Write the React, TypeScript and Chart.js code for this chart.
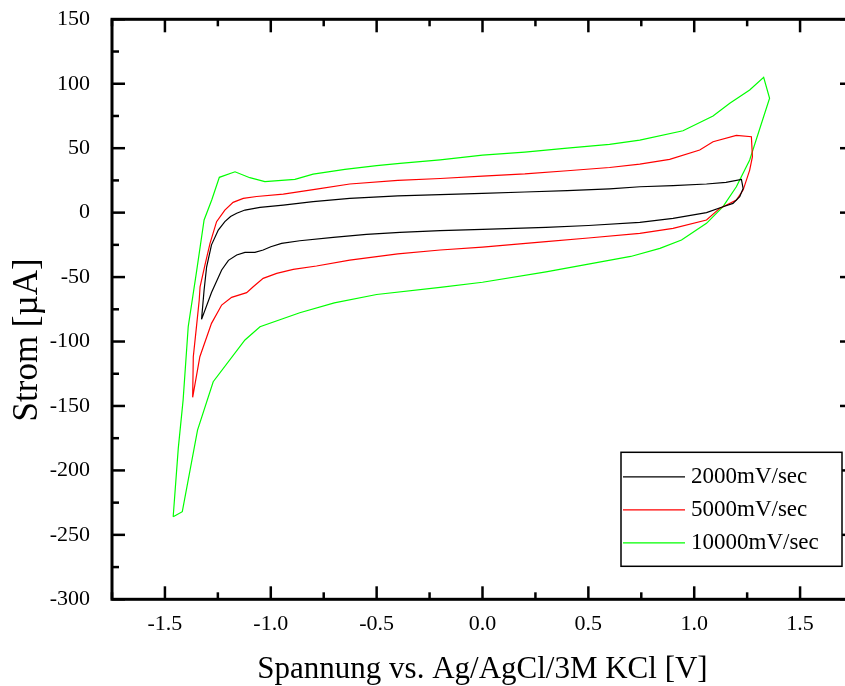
import React, { useEffect, useRef } from 'react';
import { Chart, registerables } from 'chart.js';

Chart.register(...registerables);

// ---- Data (potential in V, current in µA), each loop traced in scan order ----
const blackX = [-1.327, -1.315, -1.303, -1.28, -1.248, -1.217, -1.19, -1.161, -1.122, -1.051, -0.941, -0.8, -0.627, -0.4, -0.2, 0, 0.2, 0.4, 0.6, 0.744, 0.9, 1.058, 1.15, 1.223, 1.231, 1.215, 1.183, 1.136, 1.058, 0.9, 0.743, 0.5, 0.3, 0, -0.2, -0.39, -0.548, -0.705, -0.863, -0.949, -1.0, -1.036, -1.075, -1.122, -1.161, -1.2, -1.232, -1.28, -1.327];
const blackY = [-82.8, -60, -42, -25, -13.5, -7, -3, -0.5, 2, 4.1, 5.9, 8.5, 11.1, 13, 14, 15, 16, 17, 18.5, 20.1, 21, 22.2, 23.5, 25.8, 18.8, 12.3, 7.2, 4.6, 0, -4.4, -7.5, -10, -11.5, -13, -14, -15.3, -16.9, -19.2, -21.8, -23.8, -26.5, -29, -30.8, -30.8, -32.9, -37, -44.5, -62, -82.8];

const redX = [-1.369, -1.366, -1.352, -1.338, -1.334, -1.31, -1.287, -1.256, -1.217, -1.178, -1.13, -1.067, -0.941, -0.784, -0.627, -0.4, -0.2, 0, 0.2, 0.4, 0.6, 0.743, 0.884, 1.026, 1.089, 1.199, 1.27, 1.275, 1.262, 1.231, 1.199, 1.12, 1.058, 0.9, 0.743, 0.5, 0.3, 0, -0.2, -0.4, -0.627, -0.784, -0.894, -0.972, -1.036, -1.083, -1.114, -1.185, -1.232, -1.28, -1.335, -1.369];
const redY = [-143.3, -111.8, -90, -67.8, -57.5, -40, -23.8, -7, 2, 8, 11.1, 12.5, 14.4, 18.3, 22.2, 25, 26.5, 28.4, 30, 32.5, 35, 37.7, 41.3, 48.6, 55, 60, 58.9, 43.4, 33, 17.5, 9.8, 3.3, -5.7, -12.2, -16.1, -19.7, -22.5, -26.7, -29, -32, -36.8, -41.4, -44, -47.1, -51, -57.5, -62.1, -65.7, -71.7, -85.9, -111.8, -143.3];

const greenX = [-1.461, -1.437, -1.414, -1.39, -1.35, -1.315, -1.279, -1.243, -1.169, -1.099, -1.028, -0.886, -0.8, -0.65, -0.5, -0.39, -0.2, 0, 0.2, 0.4, 0.6, 0.743, 0.947, 1.089, 1.168, 1.262, 1.328, 1.356, 1.262, 1.199, 1.136, 1.058, 0.94, 0.838, 0.7, 0.5, 0.3, 0, -0.2, -0.5, -0.7, -0.863, -1.051, -1.122, -1.272, -1.346, -1.418, -1.461];
const greenY = [-235.9, -182.9, -145.3, -88.5, -45, -5.7, 9.8, 27.4, 31.7, 27.1, 24, 25.8, 29.9, 33.6, 36.4, 38.2, 41, 44.6, 47, 50, 53, 56.3, 63.5, 74.9, 84.8, 95.1, 105, 88.7, 40.8, 20.1, 4.6, -8.3, -21.3, -27.7, -34, -40, -46, -54, -58, -63.5, -70, -77.7, -88.5, -98.8, -131.2, -168.7, -232, -235.9];

const seriesLabels = ['2000mV/sec', '5000mV/sec', '10000mV/sec'];
const seriesColors = ['#000000', '#ff0000', '#00ff00'];
const seriesX = [blackX, redX, greenX];
const seriesY = [blackY, redY, greenY];

const xMin = -1.75;
const xMax = 1.75;
const xStep = 0.25;
const xMajor = 0.5;
const yMin = -300;
const yMax = 150;
const yStep = 25;
const yMajor = 50;

const xTitle = 'Spannung vs. Ag/AgCl/3M KCl [V]';
const yTitle = 'Strom [µA]';

const SERIF = '"Liberation Serif", "Times New Roman", Times, serif';

const isMajor = (v: number, m: number) => Math.abs(v / m - Math.round(v / m)) < 1e-6;

const framePlugin = {
  id: 'frameTicksLegend',
  afterDraw(chart: any) {
    const { ctx, chartArea } = chart;
    const { left, right, top, bottom } = chartArea;
    const xs = chart.scales.x;
    const ys = chart.scales.y;
    ctx.save();
    ctx.strokeStyle = '#000';
    ctx.lineWidth = 3;
    ctx.strokeRect(left, top, right - left, bottom - top);
    ctx.lineWidth = 2.5;
    const seg = (x1: number, y1: number, x2: number, y2: number) => {
      ctx.beginPath();
      ctx.moveTo(x1, y1);
      ctx.lineTo(x2, y2);
      ctx.stroke();
    };
    xs.ticks.forEach((t: any) => {
      const px = xs.getPixelForValue(t.value);
      const len = isMajor(t.value, xMajor) ? 13 : 7;
      seg(px, bottom, px, bottom - len);
      seg(px, top, px, top + len);
    });
    ys.ticks.forEach((t: any) => {
      const py = ys.getPixelForValue(t.value);
      const len = isMajor(t.value, yMajor) ? 13 : 7;
      seg(left, py, left + len, py);
      seg(right, py, right - len, py);
    });

    // legend box
    const bw = 221;
    const bh = 114;
    const bx = right - 11 - bw;
    const by = bottom - 33 - bh;
    ctx.fillStyle = '#fff';
    ctx.fillRect(bx, by, bw, bh);
    ctx.strokeStyle = '#000';
    ctx.lineWidth = 1.5;
    ctx.strokeRect(bx, by, bw, bh);
    ctx.font = '23px ' + SERIF;
    ctx.textBaseline = 'middle';
    ctx.textAlign = 'left';
    seriesLabels.forEach((lab, i) => {
      const cy = by + 24.5 + i * 33;
      ctx.strokeStyle = seriesColors[i];
      ctx.lineWidth = 1.2;
      seg(bx + 2, cy, bx + 64, cy);
      ctx.fillStyle = '#000';
      ctx.fillText(lab, bx + 70, cy);
    });
    ctx.restore();
  },
};

export default function App() {
  const canvasRef = useRef<HTMLCanvasElement | null>(null);

  useEffect(() => {
    const canvas = canvasRef.current;
    if (!canvas) return;
    const datasets = seriesLabels.map((label, i) => ({
      label,
      data: seriesX[i].map((x, j) => ({ x, y: seriesY[i][j] })),
      showLine: true,
      borderColor: seriesColors[i],
      backgroundColor: seriesColors[i],
      borderWidth: 1.2,
      pointRadius: 0,
      tension: 0,
      fill: false,
    }));
    const chart = new Chart(canvas, {
      type: 'scatter',
      data: { datasets },
      options: {
        animation: false,
        responsive: false,
        devicePixelRatio: 1,
        layout: { padding: { top: 19.3, right: 7, left: 0, bottom: 0 } },
        plugins: { legend: { display: false }, tooltip: { enabled: false } },
        scales: {
          x: {
            type: 'linear',
            min: xMin,
            max: xMax,
            grid: {
              display: true,
              drawOnChartArea: false,
              drawTicks: true,
              tickLength: 12,
              color: 'rgba(0,0,0,0)',
              tickColor: 'rgba(0,0,0,0)',
            },
            border: { display: false },
            ticks: {
              stepSize: xStep,
              autoSkip: false,
              maxRotation: 0,
              padding: 0,
              color: '#000',
              font: { family: SERIF, size: 22 },
              callback: (v: any) => (isMajor(Number(v), xMajor) ? Number(v).toFixed(1) : ''),
            },
            title: {
              display: true,
              text: xTitle,
              color: '#000',
              font: { family: SERIF, size: 31, lineHeight: 1 },
              padding: { top: 0, bottom: 1 },
            },
            afterFit: (s: any) => {
              s.height = 686 - 599.3;
            },
          },
          y: {
            type: 'linear',
            min: yMin,
            max: yMax,
            grid: {
              display: true,
              drawOnChartArea: false,
              drawTicks: true,
              tickLength: 22,
              color: 'rgba(0,0,0,0)',
              tickColor: 'rgba(0,0,0,0)',
            },
            border: { display: false },
            ticks: {
              stepSize: yStep,
              autoSkip: false,
              padding: 0,
              color: '#000',
              font: { family: SERIF, size: 22 },
              callback: (v: any) => (isMajor(Number(v), yMajor) ? String(Number(v)) : ''),
            },
            title: {
              display: true,
              text: yTitle + '       ',
              color: '#000',
              font: { family: SERIF, size: 35, lineHeight: 1 },
              padding: { top: 10, bottom: 0 },
            },
            afterFit: (s: any) => {
              s.width = 112;
            },
          },
        },
      },
      plugins: [framePlugin],
    });
    return () => chart.destroy();
  }, []);

  return (
    <div
      style={{
        position: 'fixed',
        left: 0,
        top: 0,
        width: 845,
        height: 686,
        overflow: 'hidden',
        background: '#fff',
      }}
    >
      <canvas ref={canvasRef} width={860} height={686} style={{ width: 860, height: 686, display: 'block' }} />
    </div>
  );
}
